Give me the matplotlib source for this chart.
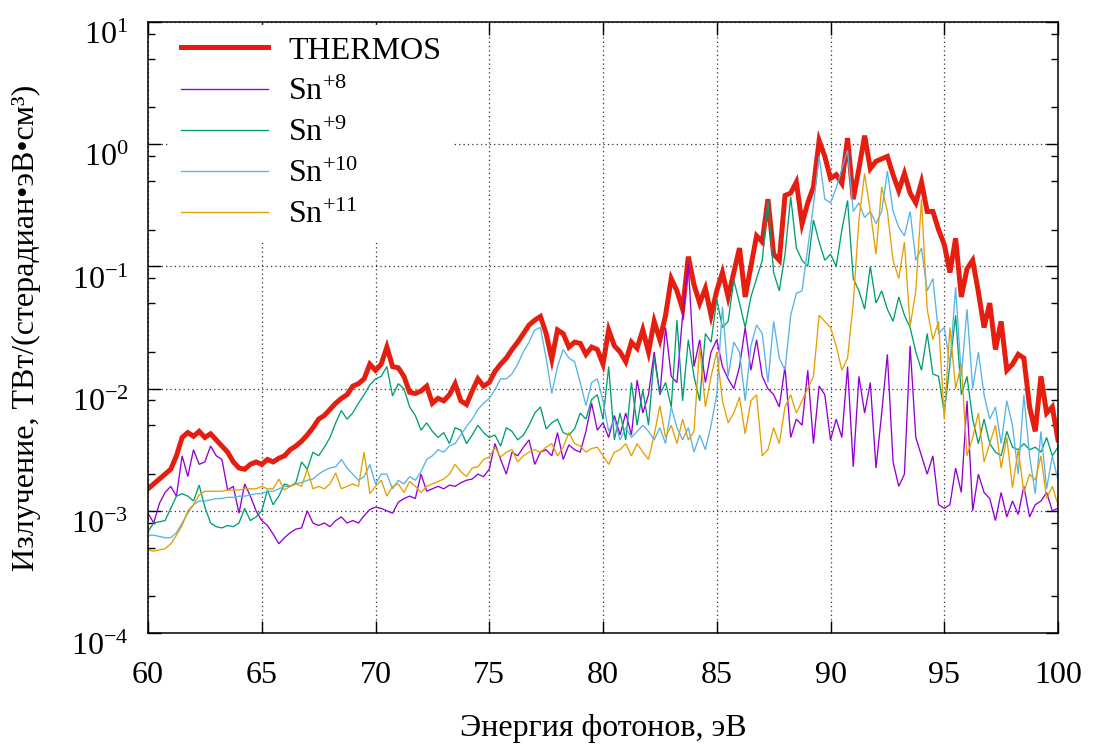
import numpy as np
import matplotlib
matplotlib.use("Agg")
import matplotlib.pyplot as plt
from matplotlib.ticker import FixedLocator, LogLocator, NullFormatter

plt.rcParams['font.family'] = ['Liberation Serif', 'DejaVu Serif']
plt.rcParams['mathtext.fontset'] = 'custom'
plt.rcParams['mathtext.rm'] = 'Liberation Serif'
plt.rcParams['mathtext.it'] = 'Liberation Serif:italic'
plt.rcParams['mathtext.bf'] = 'Liberation Serif:bold'

# photon energy grid (eV), 0.25 eV sampling
energy = np.linspace(60, 100, 161)

# log10 of emission values
thermos_log10 = [
    -2.82, -2.78, -2.74, -2.70, -2.66, -2.55, -2.40, -2.36,
    -2.39, -2.35, -2.40, -2.37, -2.42, -2.47, -2.52, -2.60,
    -2.65, -2.66, -2.62, -2.60, -2.62, -2.58, -2.60, -2.57,
    -2.55, -2.50, -2.47, -2.43, -2.38, -2.32, -2.25, -2.22,
    -2.17, -2.12, -2.08, -2.05, -1.98, -1.96, -1.92, -1.80,
    -1.85, -1.80, -1.66, -1.82, -1.83, -1.90, -2.03, -2.04,
    -2.02, -1.98, -2.12, -2.08, -2.10, -2.05, -1.96, -2.10,
    -2.13, -2.02, -1.92, -1.98, -1.95, -1.86, -1.80, -1.75,
    -1.68, -1.62, -1.55, -1.48, -1.44, -1.41, -1.55, -1.76,
    -1.52, -1.55, -1.66, -1.62, -1.63, -1.72, -1.66, -1.68,
    -1.80, -1.52, -1.65, -1.70, -1.78, -1.62, -1.67, -1.52,
    -1.70, -1.45, -1.60, -1.40, -1.10, -1.20, -1.35, -0.92,
    -1.15, -1.30, -1.18, -1.40, -1.20, -1.05, -1.25, -1.05,
    -0.85, -1.25, -1.00, -0.75, -0.80, -0.45, -0.90, -0.95,
    -0.42, -0.40, -0.31, -0.65, -0.48, -0.35, 0.03, -0.10,
    -0.28, -0.25, -0.32, 0.05, -0.45, -0.20, 0.07, -0.20,
    -0.14, -0.12, -0.10, -0.25, -0.38, -0.24, -0.40, -0.48,
    -0.31, -0.55, -0.55, -0.70, -0.82, -1.05, -0.77, -1.25,
    -1.02, -0.95, -1.21, -1.50, -1.30, -1.68, -1.45, -1.85,
    -1.80, -1.72, -1.75, -2.15, -2.35, -1.90, -2.20, -2.15,
    -2.42]

sn8_log10 = [
    -3.02, -3.10, -2.94, -2.85, -2.80, -2.88, -2.55, -2.72,
    -2.50, -2.62, -2.60, -2.47, -2.55, -2.58, -2.83, -2.80,
    -3.02, -2.78, -2.88, -3.00, -3.08, -3.12, -3.19, -3.27,
    -3.22, -3.18, -3.15, -3.14, -3.00, -3.10, -3.12, -3.10,
    -3.13, -3.08, -3.05, -3.10, -3.08, -3.10, -3.04, -2.99,
    -2.97, -2.98, -3.00, -3.02, -2.93, -2.90, -2.88, -2.90,
    -2.70, -2.84, -2.82, -2.80, -2.82, -2.79, -2.80, -2.77,
    -2.75, -2.74, -2.70, -2.72, -2.66, -2.45, -2.58, -2.70,
    -2.52, -2.55, -2.48, -2.42, -2.62, -2.52, -2.50, -2.55,
    -2.36, -2.58, -2.46, -2.50, -2.52, -2.35, -2.12, -2.34,
    -2.28, -2.40, -2.22, -2.38, -2.20, -2.38, -1.93, -2.20,
    -2.05, -1.70, -2.05, -1.50, -1.90, -1.95, -1.40, -0.98,
    -1.82, -1.60, -1.95, -1.70, -1.60, -1.82, -1.92, -2.00,
    -1.82, -1.50, -1.85, -1.60, -1.90, -2.00, -2.05, -2.15,
    -1.82, -2.40, -2.25, -2.30, -1.85, -2.45, -1.98, -2.05,
    -2.42, -2.25, -2.40, -1.82, -2.64, -1.90, -2.20, -1.95,
    -2.65, -2.20, -1.72, -2.60, -2.80, -2.70, -1.65, -2.40,
    -2.55, -2.70, -2.55, -2.95, -2.98, -2.95, -2.65, -2.85,
    -2.10, -3.00, -2.70, -2.85, -2.90, -3.08, -2.85, -3.05,
    -2.92, -3.03, -2.80, -3.05, -2.95, -2.92, -2.85, -3.00,
    -2.98]

sn9_log10 = [
    -3.17, -3.10, -3.09, -3.08, -2.98, -2.88, -2.86, -2.88,
    -2.92, -2.79, -2.97, -3.10, -3.13, -3.14, -3.12, -3.13,
    -3.10, -2.98, -3.08, -3.05, -3.00, -2.83, -2.95, -2.88,
    -2.78, -2.80, -2.77, -2.60, -2.66, -2.52, -2.55, -2.48,
    -2.40, -2.28, -2.18, -2.25, -2.20, -2.12, -2.05, -1.97,
    -1.92, -1.90, -1.82, -2.06, -1.96, -2.00, -2.15, -2.22,
    -2.34, -2.28, -2.35, -2.40, -2.36, -2.45, -2.32, -2.34,
    -2.45, -2.38, -2.30, -2.36, -2.40, -2.38, -2.47, -2.32,
    -2.35, -2.42, -2.38, -2.30, -2.20, -2.15, -2.33, -2.28,
    -2.25, -2.36, -2.38, -2.33, -2.20, -2.25, -2.09, -2.05,
    -2.25, -1.82, -2.42, -2.20, -2.42, -1.95, -2.30, -2.01,
    -2.30, -1.74, -2.05, -1.95, -2.15, -1.44, -2.10, -1.60,
    -1.90, -2.10, -1.55, -1.62, -1.27, -1.50, -1.45, -1.11,
    -1.30, -1.50, -1.25, -1.10, -0.95, -0.46, -1.05, -1.20,
    -0.90, -0.43, -0.85, -0.95, -1.00, -0.62, -0.80, -0.95,
    -0.90, -1.00, -0.70, -0.46, -1.10, -1.20, -1.35, -1.00,
    -1.30, -1.20, -1.35, -1.45, -1.25, -1.40, -1.50, -1.70,
    -1.85, -1.55, -1.88, -1.90, -2.20, -1.80, -1.40, -2.05,
    -1.90, -2.25, -2.45, -2.25, -2.45, -2.52, -2.55, -2.35,
    -2.48, -2.50, -2.45, -2.50, -2.48, -2.52, -2.40, -2.55,
    -2.48]

sn10_log10 = [
    -3.20, -3.20, -3.21, -3.22, -3.22, -3.18, -3.10, -3.02,
    -2.95, -2.92, -2.92, -2.91, -2.90, -2.90, -2.89, -2.89,
    -2.88, -2.88, -2.87, -2.86, -2.86, -2.84, -2.84, -2.82,
    -2.80, -2.80, -2.78, -2.77, -2.75, -2.74, -2.70, -2.67,
    -2.65, -2.64, -2.58, -2.65, -2.70, -2.75, -2.72, -2.62,
    -2.78, -2.70, -2.70, -2.82, -2.75, -2.78, -2.72, -2.75,
    -2.68, -2.58, -2.55, -2.50, -2.52, -2.47, -2.45, -2.38,
    -2.31, -2.25, -2.17, -2.12, -2.08, -2.01, -1.92, -1.92,
    -1.88, -1.80, -1.70, -1.62, -1.52, -1.50, -1.75, -2.04,
    -1.82, -1.68, -1.75, -1.78, -1.95, -2.14, -1.95, -1.92,
    -2.10, -2.35, -2.25, -2.42, -2.32, -2.40, -2.35, -2.30,
    -2.35, -2.42, -2.32, -2.45, -2.15, -2.32, -2.42, -2.32,
    -2.52, -2.38, -2.50, -2.30, -2.05, -1.33, -1.90, -1.62,
    -1.70, -2.10, -1.65, -1.48, -1.55, -1.95, -1.45, -1.75,
    -1.85, -1.40, -1.22, -1.20, -0.85, -0.50, -0.10, -0.45,
    -0.48, -0.36, -0.20, -0.05, -0.55, -0.48, -0.60, -0.55,
    -0.65, -0.55, -0.22, -0.55, -0.68, -0.75, -0.55, -0.95,
    -0.85, -1.20, -1.10, -1.55, -1.50, -1.80, -1.17, -1.90,
    -1.35, -2.00, -1.70, -2.05, -2.25, -2.15, -2.45, -2.10,
    -2.30, -2.70, -2.05, -2.55, -2.86, -2.35, -2.82, -2.55,
    -2.75]

sn11_log10 = [
    -3.32, -3.33, -3.32, -3.31, -3.27, -3.20, -3.12, -3.00,
    -2.95, -2.87, -2.84, -2.84, -2.84, -2.84, -2.83, -2.83,
    -2.83, -2.82, -2.82, -2.82, -2.80, -2.82, -2.82, -2.74,
    -2.83, -2.80, -2.78, -2.80, -2.66, -2.82, -2.80, -2.82,
    -2.78, -2.69, -2.82, -2.80, -2.78, -2.80, -2.52, -2.86,
    -2.80, -2.75, -2.88, -2.80, -2.78, -2.85, -2.76, -2.80,
    -2.85, -2.80, -2.78, -2.76, -2.74, -2.70, -2.62, -2.68,
    -2.72, -2.65, -2.64, -2.58, -2.56, -2.48, -2.56, -2.52,
    -2.50, -2.60, -2.55, -2.52, -2.50, -2.52, -2.48, -2.45,
    -2.55, -2.48, -2.36, -2.45, -2.47, -2.52, -2.49, -2.48,
    -2.55, -2.62, -2.52, -2.50, -2.45, -2.55, -2.45, -2.52,
    -2.58, -2.38, -2.14, -2.40, -2.30, -2.45, -2.25, -2.42,
    -2.35, -1.65, -2.15, -1.90, -1.70, -2.10, -2.28, -2.20,
    -2.07, -2.37, -2.10, -2.05, -2.55, -2.50, -2.32, -2.45,
    -2.15, -2.05, -2.20, -2.10, -2.00, -1.90, -1.40, -1.45,
    -1.50, -1.65, -1.85, -1.75, -1.30, -0.62, -0.24, -0.55,
    -0.90, -0.35, -0.55, -0.95, -1.10, -0.80, -1.49, -1.20,
    -0.45, -1.35, -1.60, -1.45, -2.25, -1.50, -2.00, -1.80,
    -2.55, -2.40, -2.20, -2.60, -2.45, -2.30, -2.65, -2.40,
    -2.81, -2.50, -2.85, -2.70, -2.75, -2.55, -2.90, -2.80,
    -2.95]

series_labels = ['THERMOS', 'Sn$^{+8}$', 'Sn$^{+9}$', 'Sn$^{+10}$', 'Sn$^{+11}$']
series_colors = ['#e51e10', '#9400d3', '#009e73', '#56b4e9', '#e69f00']
series_widths = [3.6, 0.95, 0.95, 0.95, 0.95]
series_data = [thermos_log10, sn8_log10, sn9_log10, sn10_log10, sn11_log10]

xticks = [60, 65, 70, 75, 80, 85, 90, 95, 100]
yticks = [1e-4, 1e-3, 1e-2, 1e-1, 1e0, 1e1]
ytick_labels = ['10$^{-4}$', '10$^{-3}$', '10$^{-2}$', '10$^{-1}$', '10$^{0}$', '10$^{1}$']

FS = 23

fig = plt.figure(figsize=(10.93, 7.51), dpi=100)
ax = fig.add_axes([148/1093, 1 - 633/751, (1058-148)/1093, (633-22)/751])

for vals, lab, col, lw in zip(series_data, series_labels, series_colors, series_widths):
    ax.plot(energy, np.power(10.0, np.array(vals)), color=col, lw=lw, label=lab,
            solid_joinstyle='miter')

ax.set_yscale('log')
ax.set_xlim(60, 100)
ax.set_ylim(1e-4, 1e1)
ax.set_xticks(xticks)
ax.set_xticklabels([str(v) for v in xticks])
ax.yaxis.set_major_locator(FixedLocator(yticks))
ax.set_yticklabels(ytick_labels)
ax.yaxis.set_minor_locator(LogLocator(base=10, subs=[2, 5, 8]))
ax.yaxis.set_minor_formatter(NullFormatter())

ax.tick_params(axis='both', which='both', direction='in', top=True, right=True,
               labelsize=FS, width=1)
ax.tick_params(axis='both', which='major', length=9)
ax.tick_params(axis='y', which='minor', length=5)
ax.tick_params(axis='x', which='major', pad=20)
ax.tick_params(axis='y', which='major', pad=14)
for lbl in ax.get_yticklabels():
    lbl.set_verticalalignment('top')

ax.grid(True, which='major', color='#333333', linestyle=(0, (1, 2.5)), linewidth=0.9)
for sp in ax.spines.values():
    sp.set_linewidth(1.1)

ax.set_xlabel('Энергия фотонов, эВ', fontsize=FS)
ax.xaxis.set_label_coords(0.5, -0.132)
ax.set_ylabel('Излучение, ТВт/(стерадиан•эВ•см³)', fontsize=FS)
ax.yaxis.set_label_coords(-0.118, 0.5)

leg = ax.legend(loc='upper left', bbox_to_anchor=(0.024, 0.995), fontsize=FS,
                frameon=True, fancybox=False, framealpha=1, facecolor='white',
                edgecolor='white', handlelength=2.73, handletextpad=0.62,
                labelspacing=0.37, borderaxespad=0.0, borderpad=0.35)
leg.set_zorder(5)

fig.savefig('out.png', dpi=100)
